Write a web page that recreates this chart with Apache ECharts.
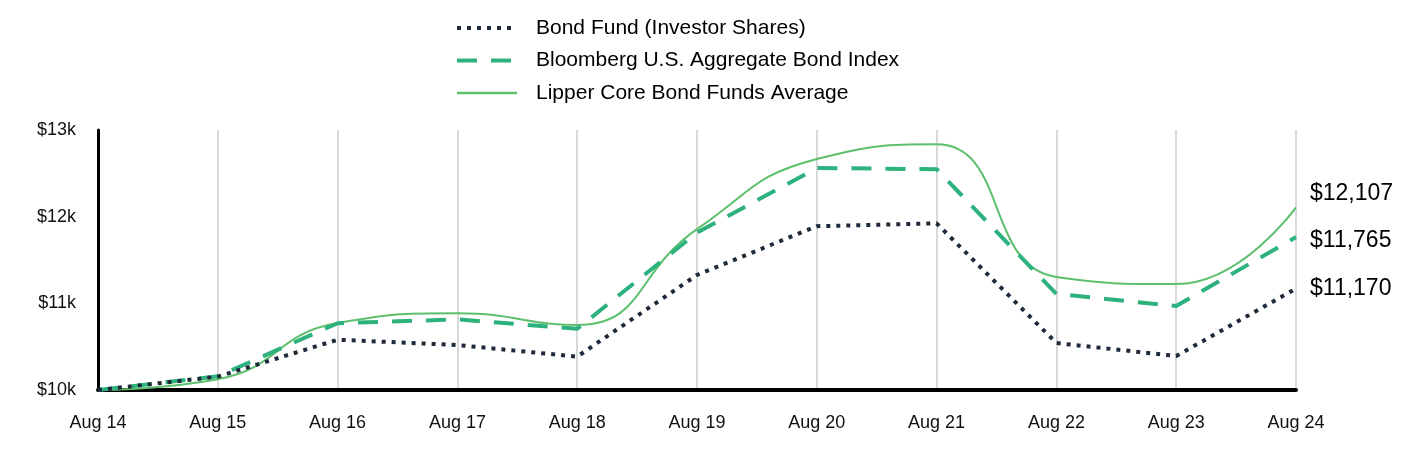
<!DOCTYPE html>
<html>
<head>
<meta charset="utf-8">
<script src="https://cdn.jsdelivr.net/npm/echarts@6/dist/echarts.min.js"></script>
<style>
html,body{margin:0;padding:0;background:#fff;}
#chart{width:1428px;height:468px;}
</style>
</head>
<body>
<div id="chart"></div>
<script>
const categories = ['Aug 14','Aug 15','Aug 16','Aug 17','Aug 18','Aug 19','Aug 20','Aug 21','Aug 22','Aug 23','Aug 24'];
const fundValues = [10000, 10154, 10580, 10519, 10385, 11327, 11890, 11923, 10542, 10392, 11170];
const bloombergValues = [10000, 10158, 10770, 10815, 10706, 11815, 12561, 12548, 11108, 10969, 11765];
const lipperValues = [10000, 10123, 10772, 10885, 10750, 11856, 12665, 12835, 11304, 11223, 12107];
const yTicks = [10000, 11000, 12000, 13000];
const seriesNames = ['Bond Fund (Investor Shares)', 'Bloomberg U.S. Aggregate Bond Index', 'Lipper Core Bond Funds Average'];

const font = 'Liberation Sans, Arial, Helvetica, sans-serif';
const fmtEnd = p => '$' + Number(p.value).toLocaleString('en-US');

const chart = echarts.init(document.getElementById('chart'), null, {renderer: 'canvas'});
chart.setOption({
  animation: false,
  backgroundColor: '#fff',
  legend: {
    orient: 'vertical',
    left: 450,
    top: 12,
    itemWidth: 60,
    itemHeight: 14,
    itemGap: 10.5,
    itemStyle: {opacity: 0},
    textStyle: {fontFamily: font, fontSize: 21, lineHeight: 22, color: '#000', padding: [0, 0, 0, 14]},
    data: [
      {name: seriesNames[0], lineStyle: {width: 4, type: [4, 6], cap: 'butt'}},
      {name: seriesNames[1], lineStyle: {width: 4, type: [20, 14], cap: 'butt'}},
      {name: seriesNames[2], lineStyle: {width: 2.5}}
    ]
  },
  grid: {left: 98, right: 132, top: 130, bottom: 78, containLabel: false},
  xAxis: {
    type: 'category',
    data: categories,
    boundaryGap: false,
    axisLine: {show: true, onZero: false, lineStyle: {color: '#000', width: 4}},
    axisTick: {show: false},
    axisLabel: {fontFamily: font, fontSize: 18, color: '#111', margin: 24},
    splitLine: {show: true, lineStyle: {color: '#d9d9d9', width: 2}}
  },
  yAxis: {
    type: 'value',
    min: 10000,
    max: 13000,
    interval: 1000,
    axisLine: {show: true, lineStyle: {color: '#000', width: 3}},
    axisTick: {show: false},
    splitLine: {show: false},
    axisLabel: {
      fontFamily: font, fontSize: 18, color: '#111', margin: 22,
      formatter: v => yTicks.includes(v) ? '$' + (v / 1000) + 'k' : ''
    }
  },
  series: [
    {
      name: seriesNames[0], type: 'line', data: fundValues, symbol: 'none', z: 4,
      color: '#1e2a3a',
      lineStyle: {color: '#1e2a3a', width: 4, type: [4, 6], cap: 'butt'},
      endLabel: {show: true, formatter: fmtEnd, fontFamily: font, fontSize: 23, color: '#000', offset: [6, 0]}
    },
    {
      name: seriesNames[1], type: 'line', data: bloombergValues, symbol: 'none', z: 3,
      color: '#2db27e',
      lineStyle: {color: '#2db27e', width: 4, type: [20, 14], cap: 'butt'},
      endLabel: {show: true, formatter: fmtEnd, fontFamily: font, fontSize: 23, color: '#000', offset: [6, 4]}
    },
    {
      name: seriesNames[2], type: 'line', data: lipperValues, symbol: 'none', z: 2,
      smooth: 0.5,
      color: '#5cbf6c',
      lineStyle: {color: '#5cbf6c', width: 2},
      endLabel: {show: true, formatter: fmtEnd, fontFamily: font, fontSize: 23, color: '#000', offset: [6, -14]}
    }
  ]
});
</script>
</body>
</html>
